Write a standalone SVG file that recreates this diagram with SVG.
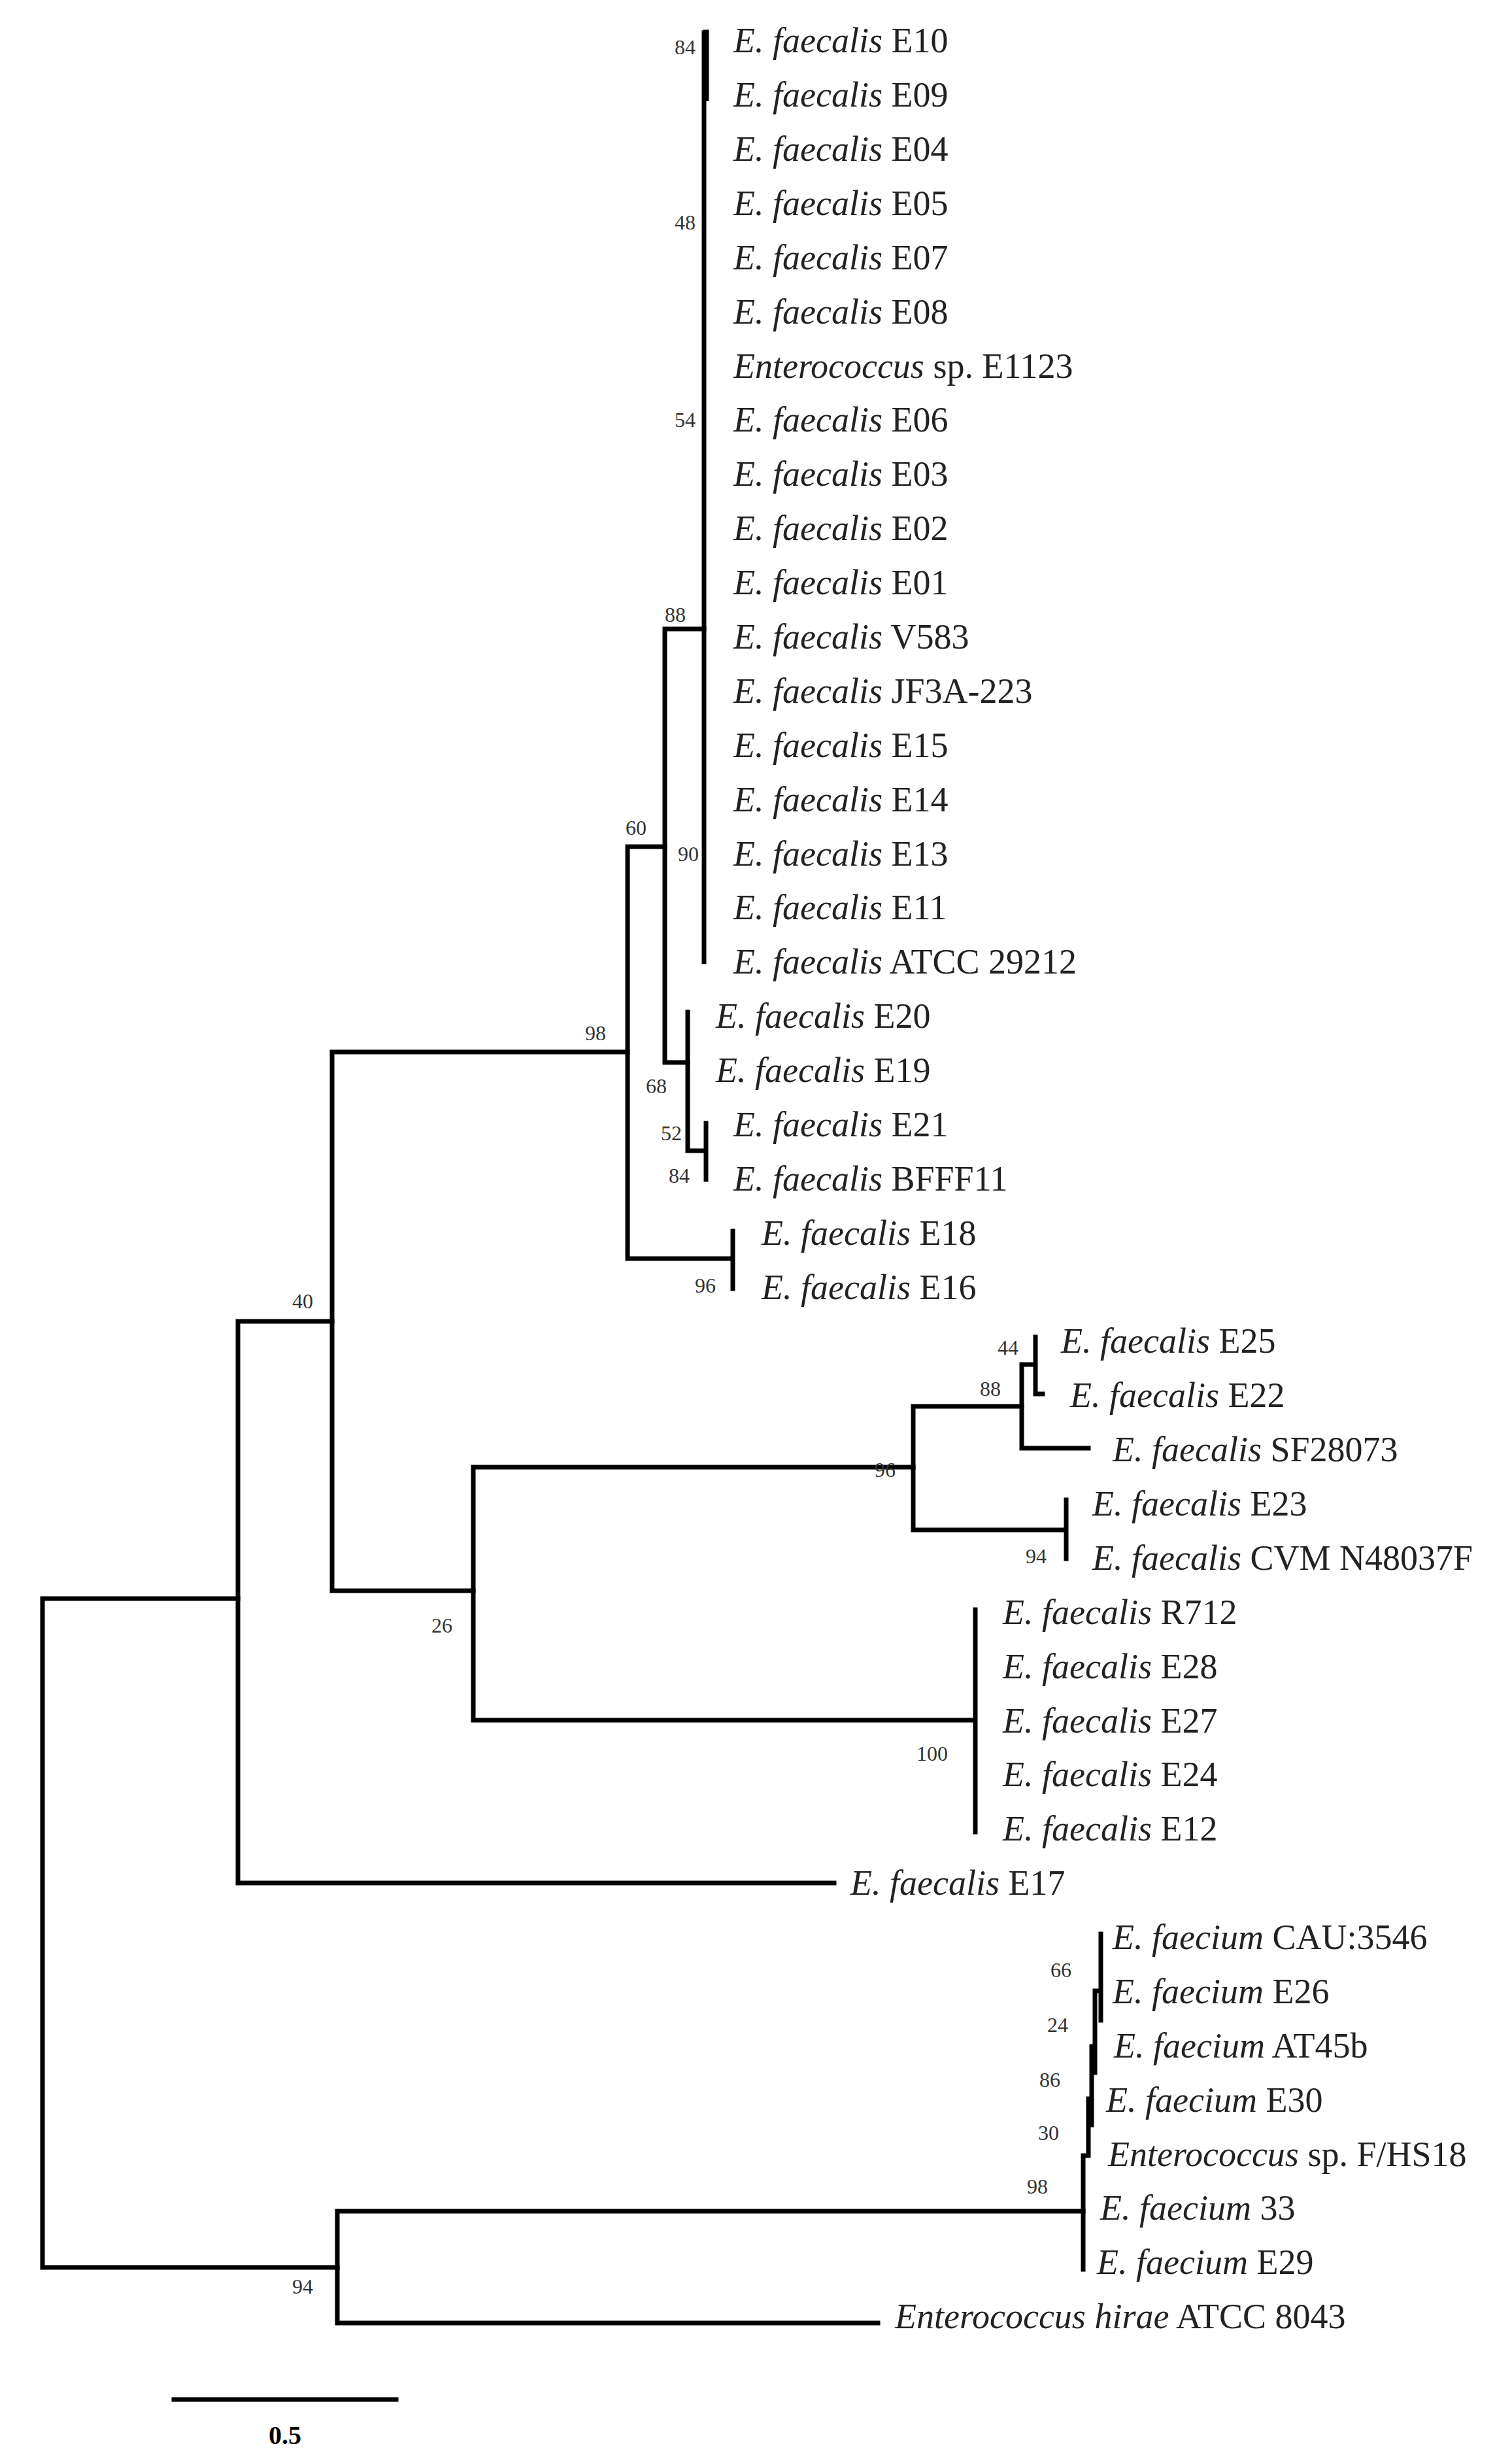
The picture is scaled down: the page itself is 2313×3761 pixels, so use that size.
<svg xmlns="http://www.w3.org/2000/svg" width="2313" height="3761" viewBox="0 0 2313 3761">
<style>
.t{font-family:"Liberation Serif",serif;font-size:54px;fill:#222}
.b{font-family:"Liberation Serif",serif;font-size:32px;fill:#333}
.e{text-anchor:end}.m{text-anchor:middle}
path{fill:none;stroke:#000;stroke-width:7;stroke-linecap:square}
</style>
<rect width="2313" height="3761" fill="#fff"/>
<g id="connectors">
<path d="M65 2445V3468M65 2445H364M65 3468H516"/>
<path d="M364 2021V2880M364 2021H508M364 2880H1276"/>
<path d="M508 1609V2433M508 1609H960M508 2433H724"/>
<path d="M960 1295V1925M960 1295H1017M960 1925H1121M1121 1883V1971"/>
<path d="M1017 962V1625M1017 962H1077M1017 1625H1052"/>
<path d="M1077 50V1471"/>
<path d="M1080 50V150" style="stroke-width:9"/>
<path d="M1052 1548V1760M1052 1760H1080M1080 1718V1804"/>
<path d="M724 2244V2631M724 2244H1397M724 2631H1492M1492 2462V2802"/>
<path d="M1397 2151V2340M1397 2151H1563M1397 2340H1631M1631 2294V2384"/>
<path d="M1563 2087V2215M1563 2087H1584M1563 2215H1665M1584 2045V2132H1595"/>
<path d="M516 3382V3553M516 3382H1657M516 3553H1343"/>
<path d="M1657 3297V3471M1657 3297H1665M1665 3210V3297M1665 3210H1670M1670 3130V3250M1670 3130H1675M1675 3045V3170M1675 3045H1684M1684 2958V3090"/>
<path d="M266 3670H606"/>
</g>
<g id="leaves">
<text class="t" x="1122" y="80"><tspan font-style="italic">E. faecalis</tspan> E10</text>
<text class="t" x="1122" y="163"><tspan font-style="italic">E. faecalis</tspan> E09</text>
<text class="t" x="1122" y="246"><tspan font-style="italic">E. faecalis</tspan> E04</text>
<text class="t" x="1122" y="329"><tspan font-style="italic">E. faecalis</tspan> E05</text>
<text class="t" x="1122" y="412"><tspan font-style="italic">E. faecalis</tspan> E07</text>
<text class="t" x="1122" y="495"><tspan font-style="italic">E. faecalis</tspan> E08</text>
<text class="t" x="1122" y="578"><tspan font-style="italic">Enterococcus</tspan> sp. E1123</text>
<text class="t" x="1122" y="660"><tspan font-style="italic">E. faecalis</tspan> E06</text>
<text class="t" x="1122" y="743"><tspan font-style="italic">E. faecalis</tspan> E03</text>
<text class="t" x="1122" y="826"><tspan font-style="italic">E. faecalis</tspan> E02</text>
<text class="t" x="1122" y="909"><tspan font-style="italic">E. faecalis</tspan> E01</text>
<text class="t" x="1122" y="992"><tspan font-style="italic">E. faecalis</tspan> V583</text>
<text class="t" x="1122" y="1075"><tspan font-style="italic">E. faecalis</tspan> JF3A-223</text>
<text class="t" x="1122" y="1158"><tspan font-style="italic">E. faecalis</tspan> E15</text>
<text class="t" x="1122" y="1241"><tspan font-style="italic">E. faecalis</tspan> E14</text>
<text class="t" x="1122" y="1324"><tspan font-style="italic">E. faecalis</tspan> E13</text>
<text class="t" x="1122" y="1406"><tspan font-style="italic">E. faecalis</tspan> E11</text>
<text class="t" x="1122" y="1489"><tspan font-style="italic">E. faecalis</tspan> ATCC 29212</text>
<text class="t" x="1095" y="1572"><tspan font-style="italic">E. faecalis</tspan> E20</text>
<text class="t" x="1095" y="1655"><tspan font-style="italic">E. faecalis</tspan> E19</text>
<text class="t" x="1122" y="1738"><tspan font-style="italic">E. faecalis</tspan> E21</text>
<text class="t" x="1122" y="1821"><tspan font-style="italic">E. faecalis</tspan> BFFF11</text>
<text class="t" x="1165" y="1904"><tspan font-style="italic">E. faecalis</tspan> E18</text>
<text class="t" x="1165" y="1987"><tspan font-style="italic">E. faecalis</tspan> E16</text>
<text class="t" x="1623" y="2069"><tspan font-style="italic">E. faecalis</tspan> E25</text>
<text class="t" x="1637" y="2152"><tspan font-style="italic">E. faecalis</tspan> E22</text>
<text class="t" x="1702" y="2235"><tspan font-style="italic">E. faecalis</tspan> SF28073</text>
<text class="t" x="1671" y="2318"><tspan font-style="italic">E. faecalis</tspan> E23</text>
<text class="t" x="1671" y="2401"><tspan font-style="italic">E. faecalis</tspan> CVM N48037F</text>
<text class="t" x="1534" y="2484"><tspan font-style="italic">E. faecalis</tspan> R712</text>
<text class="t" x="1534" y="2567"><tspan font-style="italic">E. faecalis</tspan> E28</text>
<text class="t" x="1534" y="2650"><tspan font-style="italic">E. faecalis</tspan> E27</text>
<text class="t" x="1534" y="2732"><tspan font-style="italic">E. faecalis</tspan> E24</text>
<text class="t" x="1534" y="2815"><tspan font-style="italic">E. faecalis</tspan> E12</text>
<text class="t" x="1301" y="2898"><tspan font-style="italic">E. faecalis</tspan> E17</text>
<text class="t" x="1702" y="2981"><tspan font-style="italic">E. faecium</tspan> CAU:3546</text>
<text class="t" x="1702" y="3064"><tspan font-style="italic">E. faecium</tspan> E26</text>
<text class="t" x="1704" y="3147"><tspan font-style="italic">E. faecium</tspan> AT45b</text>
<text class="t" x="1692" y="3230"><tspan font-style="italic">E. faecium</tspan> E30</text>
<text class="t" x="1695" y="3313"><tspan font-style="italic">Enterococcus</tspan> sp. F/HS18</text>
<text class="t" x="1683" y="3395"><tspan font-style="italic">E. faecium</tspan> 33</text>
<text class="t" x="1678" y="3478"><tspan font-style="italic">E. faecium</tspan> E29</text>
<text class="t" x="1369" y="3561"><tspan font-style="italic">Enterococcus hirae</tspan> ATCC 8043</text>
</g>
<g id="bootstrap">
<text class="b e" x="1064" y="83">84</text>
<text class="b e" x="1064" y="351">48</text>
<text class="b e" x="1064" y="653">54</text>
<text class="b m" x="1033" y="951">88</text>
<text class="b e" x="1069" y="1317">90</text>
<text class="b m" x="973" y="1277">60</text>
<text class="b m" x="911" y="1591">98</text>
<text class="b m" x="1004" y="1672">68</text>
<text class="b e" x="1043" y="1744">52</text>
<text class="b e" x="1055" y="1809">84</text>
<text class="b e" x="1095" y="1977">96</text>
<text class="b m" x="463" y="2001">40</text>
<text class="b m" x="676" y="2497">26</text>
<text class="b e" x="1558" y="2072">44</text>
<text class="b m" x="1515" y="2135">88</text>
<text class="b m" x="1354" y="2259">96</text>
<text class="b e" x="1601" y="2391">94</text>
<text class="b m" x="1426" y="2693">100</text>
<text class="b m" x="1623" y="3024">66</text>
<text class="b m" x="1618" y="3108">24</text>
<text class="b m" x="1606" y="3192">86</text>
<text class="b m" x="1604" y="3273">30</text>
<text class="b m" x="1587" y="3355">98</text>
<text class="b m" x="463" y="3508">94</text>
</g>
<g id="scale">
<text class="m" x="436" y="3738" style="font-family:'Liberation Serif',serif;font-size:40px;font-weight:bold">0.5</text>
</g>
</svg>
